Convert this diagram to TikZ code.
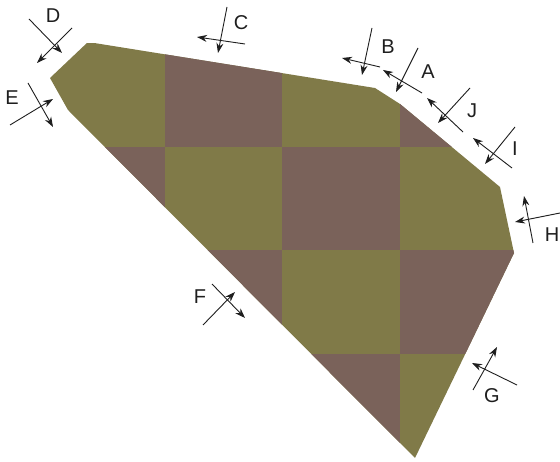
\documentclass[tikz,border=0pt]{standalone}
\usepackage{fontspec}
\setmainfont{Liberation Sans}
\usetikzlibrary{arrows.meta}
\definecolor{olive}{RGB}{128, 122, 72}
\definecolor{clay}{RGB}{122, 98, 90}
\definecolor{ink}{RGB}{30, 30, 30}

\begin{document}
\begin{tikzpicture}[x=1pt, y=-1pt,
            cut/.style={draw=ink, line width=0.9pt, -{Stealth[length=10pt, width=7pt]}},
            tag/.style={font=\fontsize{20}{20}\selectfont, text=ink, inner sep=0pt}
        ]
            \useasboundingbox (0,0) rectangle (560,462);
            % panel outline with the checker pattern
            \begin{scope}
                \clip (88,42) -- (375,88) -- (400,104) -- (500,187) -- (514,253) -- (415,458) -- (68,110) -- (50,78) -- cycle;
                \fill[olive] (48,43) rectangle (517,458);
                \fill[clay] (165,43) rectangle (282,147);
                \fill[clay] (400,43) rectangle (517,147);
                \fill[clay] (48,147) rectangle (165,250);
                \fill[clay] (282,147) rectangle (400,250);
                \fill[clay] (165,250) rectangle (282,354);
                \fill[clay] (400,250) rectangle (517,354);
                \fill[clay] (48,354) rectangle (165,458);
                \fill[clay] (282,354) rectangle (400,458);
            \end{scope}

            \node[tag] (labD) at (53,16) {D};
            \node[tag] (labC) at (241,23) {C};
            \node[tag] (labE) at (12,98) {E};
            \node[tag] (labB) at (388,47) {B};
            \node[tag] (labA) at (428,72) {A};
            \node[tag] (labJ) at (472,111) {J};
            \node[tag] (labI) at (515,149) {I};
            \node[tag] (labH) at (552,235) {H};
            \node[tag] (labF) at (200,297) {F};
            \node[tag] (labG) at (492,396) {G};

            % section marks
            \draw[cut] (29,19) -- (62,53);
            \draw[cut] (72,28) -- (37,63);
            \draw[cut] (28,83) -- (53,127);
            \draw[cut] (10,125) -- (53,99);
            \draw[cut] (227,7) -- (218,53);
            \draw[cut] (245,44) -- (197,37);
            \draw[cut] (372,28) -- (362,75);
            \draw[cut] (380,67) -- (342,58);
            \draw[cut] (418,48) -- (396,92);
            \draw[cut] (422,93) -- (383,70);
            \draw[cut] (470,88) -- (438,123);
            \draw[cut] (463,132) -- (427,98);
            \draw[cut] (515,127) -- (485,164);
            \draw[cut] (512,168) -- (473,138);
            \draw[cut] (533,243) -- (524,196);
            \draw[cut] (560,213) -- (515,222);
            \draw[cut] (212,284) -- (245,318);
            \draw[cut] (203,325) -- (235,292);
            \draw[cut] (473,390) -- (497,347);
            \draw[cut] (517,385) -- (472,363);
        \end{tikzpicture}
\end{document}
